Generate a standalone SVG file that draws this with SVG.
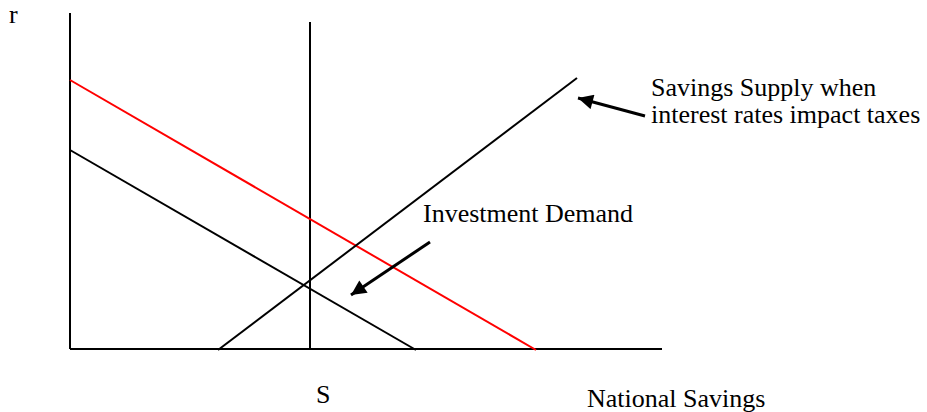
<svg xmlns="http://www.w3.org/2000/svg" width="927" height="412" viewBox="0 0 927 412">
<style>
text{font-family:"Liberation Serif","Times New Roman",serif;font-size:26px;fill:#000}
.ln{stroke:#000;stroke-width:2;fill:none}
.red{stroke:#f00;stroke-width:2;fill:none}
.arr{stroke:#000;stroke-width:3;fill:none}
</style>
<defs>
<marker id="ah" viewBox="0 0 10 10" refX="10" refY="5" markerWidth="5.5" markerHeight="5" orient="auto" markerUnits="strokeWidth">
<path d="M0,0 L10,5 L0,10 z" fill="#000"/>
</marker>
</defs>
<g id="axes">
<line class="ln" x1="70" y1="13" x2="70" y2="349"/>
<line class="ln" x1="70" y1="349" x2="662" y2="349"/>
</g>
<g id="connectors">
<line class="ln" x1="310" y1="22" x2="310" y2="349"/>
<line class="red" x1="70" y1="80" x2="536" y2="350"/>
<line class="ln" x1="70" y1="150" x2="416" y2="350"/>
<line class="ln" x1="218" y1="350" x2="577" y2="78"/>
<line class="arr" x1="645" y1="116" x2="578" y2="98" marker-end="url(#ah)"/>
<line class="arr" x1="430" y1="242" x2="351" y2="295" marker-end="url(#ah)"/>
</g>
<g id="labels">
<text x="651" y="96">Savings Supply when</text>
<text x="651" y="123">interest rates impact taxes</text>
<text x="9" y="23">r</text>
<text x="423" y="222">Investment Demand</text>
<text x="316" y="403">S</text>
<text x="587" y="407">National Savings</text>
</g>
</svg>
